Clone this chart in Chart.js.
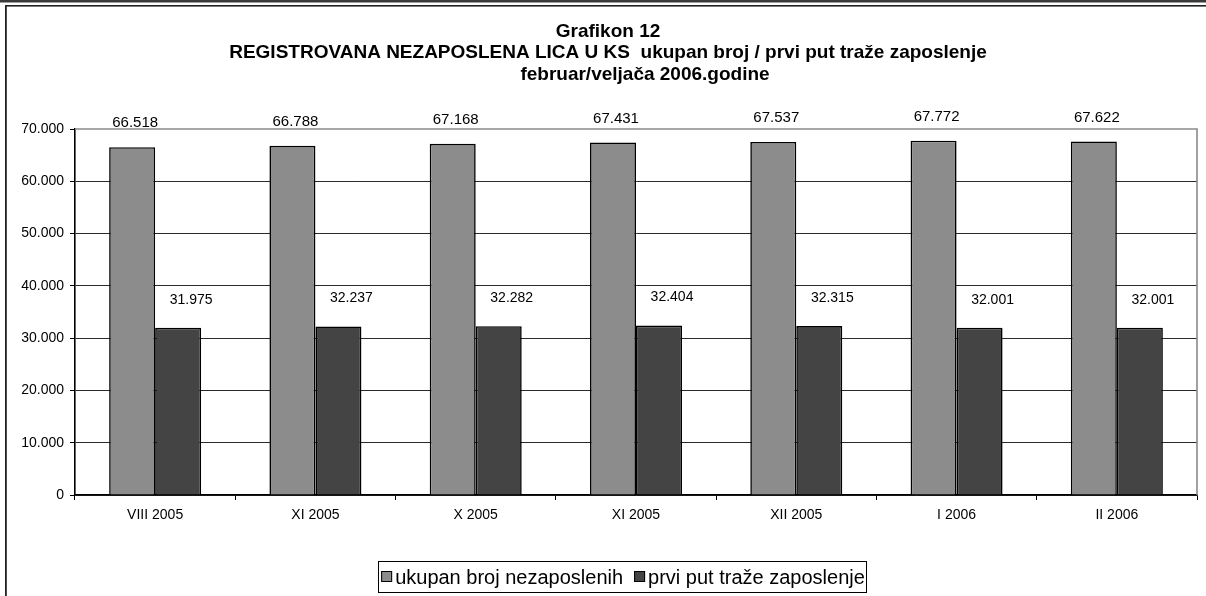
<!DOCTYPE html>
<html><head><meta charset="utf-8">
<script src="https://cdn.jsdelivr.net/npm/chart.js@4.4.1/dist/chart.umd.min.js"></script>
<style>html,body{margin:0;padding:0;background:#fff;overflow:hidden}#wrap{width:1206px;height:596px;position:relative}</style>
</head><body><div id="wrap"><canvas id="c" width="1206" height="596"></canvas></div>
<script>
const categories = ['VIII 2005', 'XI 2005', 'X 2005', 'XI 2005', 'XII 2005', 'I 2006', 'II 2006'];
const seriesNames = ['ukupan broj nezaposlenih', 'prvi put traže zaposlenje'];
const ukupan = [66518, 66788, 67168, 67431, 67537, 67772, 67622];
const prviPut = [31975, 32237, 32282, 32404, 32315, 32001, 32001];
const titleLines = ['Grafikon 12', 'REGISTROVANA NEZAPOSLENA LICA U KS  ukupan broj / prvi put traže zaposlenje', 'februar/veljača 2006.godine'];
const yMin = 0, yMax = 70000, yStep = 10000;

const FONT = '"Liberation Sans", Arial, Helvetica, sans-serif';
const seriesColors = ['#8c8c8c', '#444444'];
function fmt(v) { return String(v).replace(/\B(?=(\d{3})+(?!\d))/g, '.'); }

const decor = {
  id: 'decor',
  beforeDraw(chart) {
    const c = chart.ctx;
    c.save();
    c.fillStyle = '#fff';
    c.fillRect(0, 0, chart.width, chart.height);
    c.fillStyle = '#3a3a3a';
    c.fillRect(0, 0, chart.width, 2.5);
    c.fillStyle = '#222';
    c.fillRect(5, 5, chart.width - 5, 1.6);
    c.fillRect(5, 5, 1.8, chart.height - 5);
    // title
    c.fillStyle = '#000';
    c.font = 'bold 19px ' + FONT;
    c.textAlign = 'center';
    c.textBaseline = 'alphabetic';
    const centers = [608, 608, 645];
    const bases = [37, 58, 80];
    titleLines.forEach((t, i) => c.fillText(t, centers[i], bases[i]));
    c.restore();
  },
  beforeDatasetsDraw(chart) {
    const a = chart.chartArea, c = chart.ctx;
    c.save();
    c.strokeStyle = '#8a8a8a';
    c.lineWidth = 1.6;
    c.beginPath();
    c.moveTo(a.left, a.top);
    c.lineTo(a.right, a.top);
    c.lineTo(a.right, a.bottom);
    c.stroke();
    c.restore();
  },
  afterDatasetsDraw(chart) {
    const c = chart.ctx;
    c.save();
    c.fillStyle = '#000';
    c.textAlign = 'center';
    c.textBaseline = 'middle';
    chart.data.datasets.forEach((ds, di) => {
      const meta = chart.getDatasetMeta(di);
      c.font = (di === 0 ? '15px ' : '14px ') + FONT;
      meta.data.forEach((bar, i) => {
        const dx = di === 0 ? 3 : 13;
        const dy = di === 0 ? -24 : -28;
        c.fillText(fmt(ds.data[i]), bar.x + dx, bar.y + dy);
      });
    });
    c.restore();
  },
  afterDraw(chart) {
    const c = chart.ctx;
    c.save();
    c.font = '20px ' + FONT;
    const box = 11, gap = 3, itemGap = 11;
    const widths = chart.data.datasets.map(ds => c.measureText(ds.label).width);
    let total = 0;
    widths.forEach((w, i) => { total += box + gap + w + (i < widths.length - 1 ? itemGap : 0); });
    const cx = 623, top = 561.5, h = 31;
    const left = cx - total / 2;
    c.strokeStyle = '#000';
    c.lineWidth = 1;
    c.strokeRect(Math.round(left - 2) - 0.5, top, Math.round(total + 4), h);
    let x = left;
    const midY = top + h / 2;
    c.textBaseline = 'middle';
    c.textAlign = 'left';
    chart.data.datasets.forEach((ds, i) => {
      c.fillStyle = ds.backgroundColor;
      c.fillRect(x, midY - 6, box, box);
      c.strokeStyle = '#000';
      c.lineWidth = 1;
      c.strokeRect(x + 0.5, midY - 5.5, box - 1, box - 1);
      c.fillStyle = '#000';
      c.fillText(ds.label, x + box + gap, midY + 1);
      x += box + gap + widths[i] + itemGap;
    });
    c.restore();
  }
};

new Chart(document.getElementById('c'), {
  type: 'bar',
  data: {
    labels: categories,
    datasets: [
      { label: seriesNames[0], data: ukupan, backgroundColor: seriesColors[0], borderColor: '#000', borderWidth: 1.6 },
      { label: seriesNames[1], data: prviPut, backgroundColor: seriesColors[1], borderColor: '#000', borderWidth: 1.6 }
    ]
  },
  options: {
    responsive: false,
    animation: false,
    devicePixelRatio: 1,
    datasets: { bar: { barPercentage: 1, categoryPercentage: 0.574 } },
    layout: { padding: { top: 129, left: 0, right: 9, bottom: 0 } },
    plugins: { legend: { display: false }, title: { display: false }, tooltip: { enabled: false } },
    scales: {
      x: {
        offset: true,
        grid: { offset: true, drawOnChartArea: false, drawTicks: true, tickLength: 5, color: '#000', lineWidth: 1 },
        border: { display: true, color: '#000', width: 1.6 },
        ticks: { font: { size: 14, family: FONT }, color: '#000', padding: 7, maxRotation: 0, autoSkip: false },
        afterFit(s) { s.height = 101; }
      },
      y: {
        min: yMin, max: yMax,
        ticks: { stepSize: yStep, callback: v => fmt(v), font: { size: 14, family: FONT }, color: '#000', padding: 6 },
        grid: { color: ctx => (ctx.tick && ctx.tick.value === yMax ? 'rgba(0,0,0,0)' : '#2a2a2a'), tickColor: '#000', lineWidth: 1, tickLength: 5, drawTicks: true },
        border: { display: true, color: '#000', width: 1.6 },
        afterFit(s) { s.width = 75; }
      }
    }
  },
  plugins: [decor]
});
</script>
</body></html>
